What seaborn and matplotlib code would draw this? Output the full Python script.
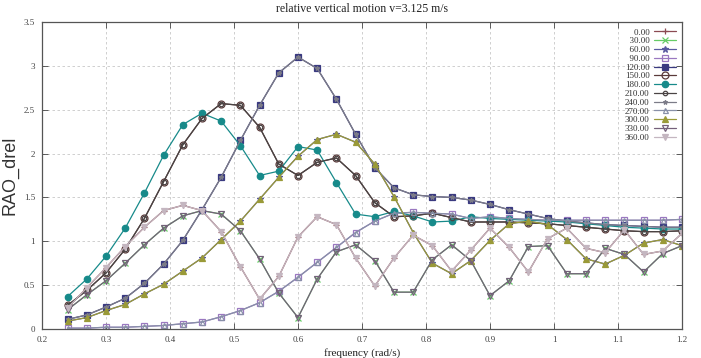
import matplotlib
matplotlib.use("Agg")
import matplotlib.pyplot as plt
import seaborn as sns
import pandas as pd

# ---------------- data ----------------
freq = [0.24, 0.27, 0.30, 0.33, 0.36, 0.39, 0.42, 0.45, 0.48, 0.51, 0.54,
        0.57, 0.60, 0.63, 0.66, 0.69, 0.72, 0.75, 0.78, 0.81, 0.84, 0.87,
        0.90, 0.93, 0.96, 0.99, 1.02, 1.05, 1.08, 1.11, 1.14, 1.17, 1.20]

rao_following = [0.24, 0.47, 0.70, 0.94, 1.16, 1.35, 1.41, 1.35, 1.11, 0.71, 0.34,
                 0.60, 1.05, 1.28, 1.19, 0.81, 0.49, 0.81, 1.07, 0.95, 0.66, 0.90,
                 1.15, 0.93, 0.65, 1.03, 1.15, 0.92, 0.87, 1.13, 0.85, 0.89, 1.09]
rao_quartering30 = [0.22, 0.39, 0.55, 0.75, 0.96, 1.15, 1.29, 1.35, 1.31, 1.12, 0.80,
                    0.41, 0.13, 0.57, 0.88, 0.96, 0.78, 0.42, 0.42, 0.79, 0.96, 0.78,
                    0.38, 0.55, 0.94, 0.95, 0.63, 0.63, 0.92, 0.85, 0.65, 0.86, 0.95]
rao_quartering60 = [0.09, 0.13, 0.21, 0.28, 0.40, 0.51, 0.66, 0.81, 1.02, 1.23, 1.48,
                    1.73, 1.97, 2.16, 2.22, 2.13, 1.88, 1.51, 1.10, 0.75, 0.63, 0.78,
                    1.01, 1.20, 1.23, 1.19, 1.02, 0.80, 0.74, 0.84, 0.98, 1.02, 0.95]
rao_beam = [0.01, 0.01, 0.02, 0.02, 0.03, 0.04, 0.06, 0.08, 0.14, 0.21, 0.30,
            0.43, 0.59, 0.76, 0.93, 1.10, 1.23, 1.32, 1.33, 1.32, 1.31, 1.26,
            1.28, 1.26, 1.25, 1.24, 1.24, 1.24, 1.24, 1.24, 1.24, 1.24, 1.25]
rao_bow120 = [0.11, 0.16, 0.25, 0.35, 0.52, 0.74, 1.01, 1.36, 1.73, 2.15, 2.55,
              2.92, 3.10, 2.97, 2.62, 2.22, 1.84, 1.61, 1.53, 1.51, 1.50, 1.47,
              1.42, 1.36, 1.31, 1.26, 1.23, 1.21, 1.19, 1.18, 1.17, 1.16, 1.16]
rao_bow150 = [0.27, 0.44, 0.64, 0.91, 1.26, 1.68, 2.10, 2.40, 2.57, 2.55, 2.30,
              1.88, 1.75, 1.90, 1.95, 1.75, 1.44, 1.28, 1.29, 1.32, 1.27, 1.22,
              1.22, 1.22, 1.21, 1.20, 1.18, 1.16, 1.14, 1.12, 1.11, 1.11, 1.12]
rao_head = [0.37, 0.57, 0.83, 1.15, 1.55, 1.98, 2.33, 2.46, 2.37, 2.09, 1.75,
            1.80, 2.08, 2.04, 1.67, 1.31, 1.28, 1.34, 1.29, 1.22, 1.23, 1.28,
            1.26, 1.25, 1.24, 1.23, 1.22, 1.20, 1.18, 1.16, 1.15, 1.14, 1.14]

headings = ["0.00", "30.00", "60.00", "90.00", "120.00", "150.00", "180.00",
            "210.00", "240.00", "270.00", "300.00", "330.00", "360.00"]
series = {
    "0.00": rao_following, "30.00": rao_quartering30, "60.00": rao_quartering60,
    "90.00": rao_beam, "120.00": rao_bow120, "150.00": rao_bow150,
    "180.00": rao_head, "210.00": rao_bow150, "240.00": rao_bow120,
    "270.00": rao_beam, "300.00": rao_quartering60, "330.00": rao_quartering30,
    "360.00": rao_following,
}

xticks = [0.2, 0.3, 0.4, 0.5, 0.6, 0.7, 0.8, 0.9, 1.0, 1.1, 1.2]
xticklabels = ["0.2", "0.3", "0.4", "0.5", "0.6", "0.7", "0.8", "0.9", "1", "1.1", "1.2"]
yticks = [0, 0.5, 1, 1.5, 2, 2.5, 3, 3.5]
yticklabels = ["0", "0.5", "1", "1.5", "2", "2.5", "3", "3.5"]

# ---------------- styles ----------------
# (line colour, marker, face colour, size)
styles = {
    "0.00":   ("#8b4a52", "+", "#8b4a52", 5),
    "30.00":  ("#66cc66", "x", "#66cc66", 4),
    "60.00":  ("#5a5aa0", "*", "#5a5aa0", 5),
    "90.00":  ("#9a78c0", "s", "none", 4.5),
    "120.00": ("#3a3a80", "s", "#3a3a80", 4.2),
    "150.00": ("#5a3a3a", "o", "none", 5),
    "180.00": ("#178a8a", "o", "#178a8a", 4.6),
    "210.00": ("#4a4444", "o", "none", 3.2),
    "240.00": ("#7c7c88", "*", "#7c7c88", 3.2),
    "270.00": ("#8890a8", "^", "none", 3.6),
    "300.00": ("#9a9a38", "^", "#9a9a38", 3.8),
    "330.00": ("#74607a", "v", "none", 4.6),
    "360.00": ("#c4b6c0", "v", "#c4b6c0", 4.2),
}

sns.set_theme(style="ticks")
plt.rcParams["font.family"] = ["Liberation Serif", "DejaVu Serif"]

fig, ax = plt.subplots(figsize=(7.01, 3.58), dpi=100)
fig.subplots_adjust(left=42 / 701, right=682 / 701, top=1 - 22 / 358, bottom=1 - 329 / 358)

for h in headings:
    col, mk, mfc, ms = styles[h]
    df = pd.DataFrame({"freq": freq, "rao": series[h]})
    sns.lineplot(data=df, x="freq", y="rao", ax=ax, color=col, marker=mk,
                 markersize=ms, markerfacecolor=mfc, markeredgecolor=col,
                 markeredgewidth=0.9, linewidth=0.9, label=h.rjust(6, "\u2007"),
                 legend=False)

ax.set_xlim(0.2, 1.2)
ax.set_ylim(0, 3.5)
ax.set_xticks(xticks)
ax.set_xticklabels(xticklabels)
ax.set_yticks(yticks)
ax.set_yticklabels(yticklabels)
ax.tick_params(direction="in", length=4, width=0.6, labelsize=6.5, colors="#444",
               top=True, right=True, pad=5)
ax.grid(True, linestyle=(0, (3, 3)), color="#c8c8c8", linewidth=0.6)
for sp in ax.spines.values():
    sp.set_color("#555")
    sp.set_linewidth(0.9)

ax.set_title("relative vertical motion v=3.125 m/s", fontsize=8.5, color="#222", pad=7)
ax.set_xlabel("frequency (rad/s)", fontsize=8, color="#222", labelpad=3)
ax.set_ylabel("RAO_drel", fontsize=13, color="#333",
              family=["Liberation Sans", "DejaVu Sans"], labelpad=4)

leg = ax.legend(loc="upper right", frameon=False, markerfirst=False, fontsize=6.5,
                handlelength=2.4, labelspacing=0.05, borderaxespad=0.3,
                handletextpad=0.5)
for t in leg.get_texts():
    t.set_color("#333")

fig.savefig("out.png", dpi=100)
